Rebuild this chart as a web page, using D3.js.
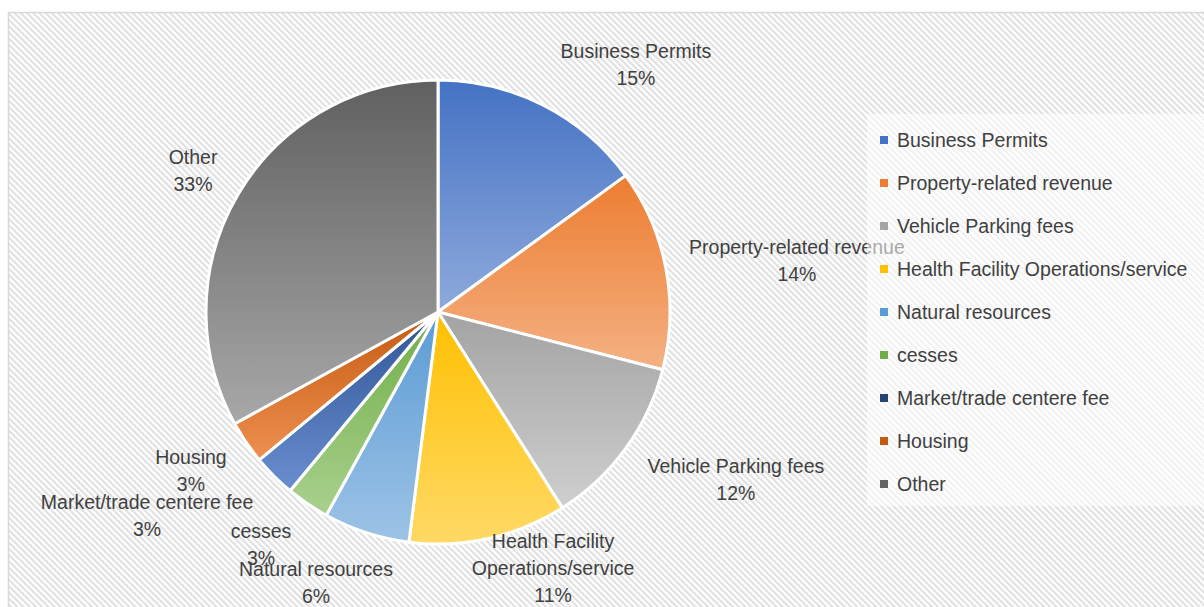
<!DOCTYPE html>
<html>
<head>
<meta charset="utf-8">
<script src="https://cdn.jsdelivr.net/npm/d3@7"></script>
<style>
  html, body { margin: 0; padding: 0; background: #ffffff; }
  svg { display: block; font-family: "Liberation Sans", Arial, sans-serif; }
</style>
</head>
<body>
<svg id="chart" width="1204" height="607"></svg>
<script>
// Revenue sources, share of total (%)
const categories = [
  "Business Permits",
  "Property-related revenue",
  "Vehicle Parking fees",
  "Health Facility Operations/service",
  "Natural resources",
  "cesses",
  "Market/trade centere fee",
  "Housing",
  "Other"
];
const shares = [15, 14, 12, 11, 6, 3, 3, 3, 33];

// Data-label text lines (percent line is appended)
const labelLines = [
  ["Business Permits"],
  ["Property-related revenue"],
  ["Vehicle Parking fees"],
  ["Health Facility", "Operations/service"],
  ["Natural resources"],
  ["cesses"],
  ["Market/trade centere fee"],
  ["Housing"],
  ["Other"]
];

// Slice colours: gradient top -> bottom
const colorTop = ["#4472C4", "#ED7D31", "#A3A3A3", "#FFC000", "#5B9BD5", "#70AD47", "#2F5597", "#C55A11", "#606060"];
const colorBottom = ["#8FAADC", "#F4B183", "#CFCFCF", "#FFD966", "#9DC3E6", "#A9D18E", "#6A8ED0", "#EE9050", "#A8A8A8"];
const legendColor = ["#4472C4", "#ED7D31", "#A5A5A5", "#FFC000", "#5B9BD5", "#70AD47", "#264478", "#C55A11", "#636363"];

// Layout
const cx = 438, cy = 312, radius = 232;
// label centre offsets from pie centre, in units of radius
const labelOffsets = [
  [0.853, -1.065], [1.547, -0.22], [1.284, 0.72], [0.496, 1.105],
  [-0.526, 1.164], [-0.763, 1.0], [-1.254, 0.879], [-1.065, 0.685], [-1.056, -0.608]
];
const lineH = 27;

const svg = d3.select("#chart");
const defs = svg.append("defs");

// diagonal hatch background
const pat = defs.append("pattern")
  .attr("id", "hatch")
  .attr("patternUnits", "userSpaceOnUse")
  .attr("width", 4.4).attr("height", 10)
  .attr("patternTransform", "rotate(-45)");
pat.append("rect").attr("width", 4.4).attr("height", 10).attr("fill", "#ffffff");
pat.append("rect").attr("width", 2.1).attr("height", 10).attr("fill", "#e0e0e0");

categories.forEach((c, i) => {
  const g = defs.append("linearGradient")
    .attr("id", "grad" + i)
    .attr("x1", 0).attr("y1", 0).attr("x2", 0).attr("y2", 1);
  g.append("stop").attr("offset", "0%").attr("stop-color", colorTop[i]);
  g.append("stop").attr("offset", "100%").attr("stop-color", colorBottom[i]);
});

// chart area
svg.append("rect")
  .attr("x", 8.5).attr("y", 12.5)
  .attr("width", 1210).attr("height", 610)
  .attr("fill", "url(#hatch)")
  .attr("stroke", "#d9d9d9").attr("stroke-width", 1.5);

// pie
const pie = d3.pie().sort(null).value(d => d)(shares);
const arc = d3.arc().innerRadius(0).outerRadius(radius);

const gPie = svg.append("g").attr("transform", `translate(${cx},${cy})`);
gPie.selectAll("path.slice")
  .data(pie)
  .join("path")
  .attr("class", "slice")
  .attr("d", arc)
  .attr("fill", (d, i) => `url(#grad${i})`)
  .attr("stroke", "#ffffff")
  .attr("stroke-width", 3)
  .attr("stroke-linejoin", "round");

// data labels
const gLab = gPie.append("g")
  .attr("fill", "#404040")
  .attr("font-size", "19.5px")
  .attr("text-anchor", "middle");
pie.forEach((d, i) => {
  const lines = labelLines[i].concat([d3.format(".0f")(d.value) + "%"]);
  const [ox, oy] = labelOffsets[i];
  const x = ox * radius, y = oy * radius;
  const y0 = y - (lines.length - 1) * lineH / 2;
  const t = gLab.append("text").attr("x", x).attr("dominant-baseline", "central");
  lines.forEach((ln, k) => {
    t.append("tspan").attr("x", x).attr("y", y0 + k * lineH).text(ln);
  });
});

// legend
const lg = svg.append("g");
lg.append("rect")
  .attr("x", 867).attr("y", 114)
  .attr("width", 340).attr("height", 392)
  .attr("fill", "#ffffff").attr("fill-opacity", 0.55);
const row = lg.selectAll("g.row")
  .data(categories)
  .join("g")
  .attr("class", "row")
  .attr("transform", (d, i) => `translate(884, ${140 + i * 43})`);
row.append("rect")
  .attr("x", -4).attr("y", -4)
  .attr("width", 8).attr("height", 8)
  .attr("fill", (d, i) => legendColor[i]);
row.append("text")
  .attr("x", 13)
  .attr("dominant-baseline", "central")
  .attr("fill", "#404040")
  .attr("font-size", "19.5px")
  .text(d => d);
</script>
</body>
</html>
